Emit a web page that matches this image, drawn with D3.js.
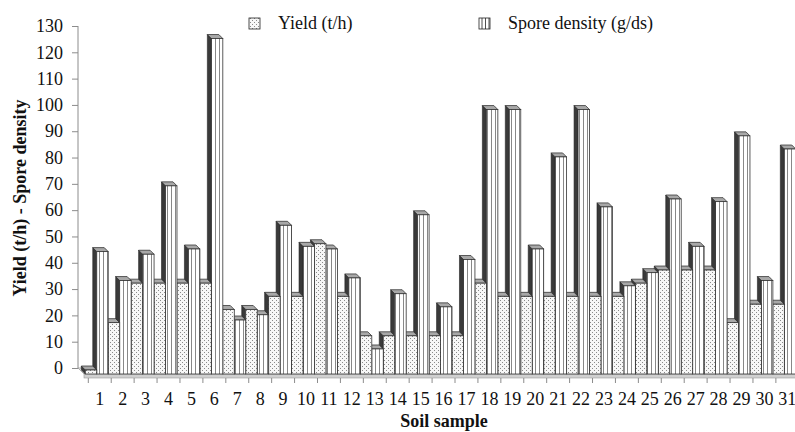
<!DOCTYPE html>
<html>
<head>
<meta charset="utf-8">
<script src="https://cdn.jsdelivr.net/npm/d3@7"></script>
<style>
  html, body { margin: 0; padding: 0; background: #fff; }
  svg { display: block; }
  text { font-family: "Liberation Serif", "Times New Roman", serif; fill: #111; }
</style>
</head>
<body>
<svg id="chart" width="795" height="432"></svg>
<script>
const categories = ["1","2","3","4","5","6","7","8","9","10","11","12","13","14","15","16","17","18","19","20","21","22","23","24","25","26","27","28","29","30","31"];
const yieldValues = [0,18,33,33,33,33,23,23,28,28,48,28,13,13,13,13,13,33,28,28,28,28,28,28,33,38,38,38,18,25,25];
const sporeValues = [45,34,44,70,46,126,19,21,55,47,46,35,8,29,59,24,42,99,99,46,81,99,62,32,37,65,47,64,89,34,84];
const yTicks = [0,10,20,30,40,50,60,70,80,90,100,110,120,130];
const seriesNames = ["Yield (t/h)", "Spore density (g/ds)"];

const svg = d3.select("#chart");
const defs = svg.append("defs");

// dotted pattern
const pd = defs.append("pattern").attr("id","dots").attr("patternUnits","userSpaceOnUse")
  .attr("width",4).attr("height",4);
pd.append("rect").attr("width",4).attr("height",4).attr("fill","#f7f7f7");
pd.append("rect").attr("x",0).attr("y",0).attr("width",1).attr("height",1).attr("fill","#8a8a8a");
pd.append("rect").attr("x",2).attr("y",2).attr("width",1).attr("height",1).attr("fill","#8a8a8a");

// vertical lines pattern
const pv = defs.append("pattern").attr("id","vlines").attr("patternUnits","userSpaceOnUse")
  .attr("width",4).attr("height",4);
pv.append("rect").attr("width",4).attr("height",4).attr("fill","#fff");
pv.append("rect").attr("x",3).attr("y",0).attr("width",1).attr("height",4).attr("fill","#888");

const x = d3.scaleBand().domain(categories).range([88.3, 798.8]).padding(0);
const yAxisScale = d3.scaleLinear().domain([0,130]).range([368, 26]);
const yBar = d3.scaleLinear().domain([0,130]).range([370, 28]);
const bottom = 374, DX = 4, DY = 4;
const bw = x.bandwidth() / 2;

// floor
svg.append("path")
  .attr("d", `M78,368 L800,368 L806,374 L84,374 Z`)
  .attr("fill","#f0f0f0").attr("stroke","#999").attr("stroke-width",0.8);
svg.append("rect").attr("x",84).attr("y",374).attr("width",720).attr("height",4)
  .attr("fill","#d0d0d0").attr("stroke","#999").attr("stroke-width",0.6);

// y axis
svg.append("line").attr("x1",78).attr("x2",78).attr("y1",26).attr("y2",368)
  .attr("stroke","#8c8c8c").attr("stroke-width",1);
const yAxis = d3.axisLeft(yAxisScale).tickValues(yTicks).tickSize(6).tickPadding(9);
const gy = svg.append("g").attr("transform","translate(78,0)").call(yAxis);
gy.select(".domain").remove();
gy.selectAll(".tick line").attr("stroke","#8c8c8c");
gy.selectAll(".tick text").attr("font-size",18).attr("font-family","Liberation Serif").attr("fill","#111");

// x axis (front floor edge)
const gx = svg.append("g").attr("transform","translate(0,378)");
gx.selectAll("line.tk").data(categories).enter().append("line").attr("class","tk")
  .attr("x1", d => x(d)).attr("x2", d => x(d)).attr("y1",0).attr("y2",5)
  .attr("stroke","#8c8c8c");
gx.selectAll("text").data(categories).enter().append("text")
  .attr("x", d => x(d) + x.bandwidth()/2).attr("y", 27)
  .attr("text-anchor","middle").attr("font-size",18).text(d => d);

// bars
function bar(g, x0, v, fill) {
  const yt = yBar(v);
  const x1 = x0 + bw;
  g.append("path").attr("d", `M${x0},${yt} L${x0-DX},${yt-DY} L${x0-DX},${bottom-DY} L${x0},${bottom} Z`)
    .attr("fill","#3a3a3a").attr("stroke","#222").attr("stroke-width",0.6);
  g.append("path").attr("d", `M${x0},${yt} L${x1},${yt} L${x1-DX},${yt-DY} L${x0-DX},${yt-DY} Z`)
    .attr("fill","#a8a8a8").attr("stroke","#222").attr("stroke-width",0.7);
  g.append("rect").attr("x",x0).attr("y",yt).attr("width",bw).attr("height",bottom-yt)
    .attr("fill",fill).attr("stroke","#333").attr("stroke-width",0.8);
}
const gb = svg.append("g");
for (let i = categories.length - 1; i >= 0; i--) {
  const c = categories[i];
  const x0 = x(c) - 3;
  bar(gb, x0 + bw, sporeValues[i], "url(#vlines)");
  bar(gb, x0, yieldValues[i], "url(#dots)");
}

// legend
const lg = svg.append("g");
lg.append("rect").attr("x",249).attr("y",18).attr("width",11).attr("height",11)
  .attr("fill","url(#dots)").attr("stroke","#222").attr("stroke-width",0.8);
lg.append("text").attr("x",278).attr("y",29).attr("font-size",18).text(seriesNames[0]);
lg.append("rect").attr("x",479).attr("y",18).attr("width",11).attr("height",11)
  .attr("fill","#fff").attr("stroke","#222").attr("stroke-width",0.8);
[482,485.5,489].forEach(xx => lg.append("line").attr("x1",xx).attr("x2",xx).attr("y1",18).attr("y2",29)
  .attr("stroke","#222").attr("stroke-width",0.8));
lg.append("text").attr("x",508).attr("y",29).attr("font-size",18).text(seriesNames[1]);

// axis titles
svg.append("text").attr("transform","translate(26,198) rotate(-90)")
  .attr("text-anchor","middle").attr("font-size",18).attr("font-weight","bold")
  .text("Yield (t/h) - Spore density");
svg.append("text").attr("x",444).attr("y",427).attr("text-anchor","middle")
  .attr("font-size",18).attr("font-weight","bold").text("Soil sample");
</script>
</body>
</html>
